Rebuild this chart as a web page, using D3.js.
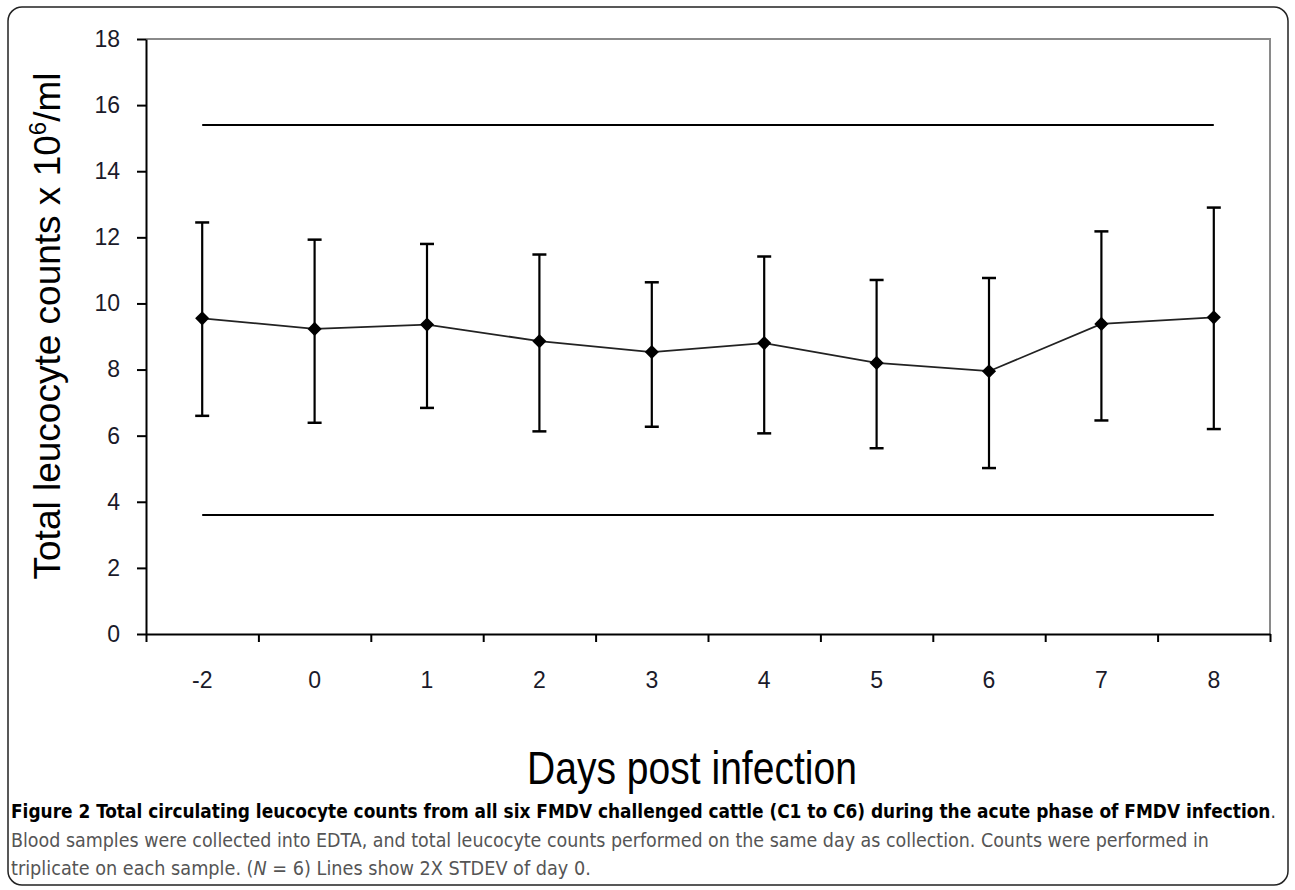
<!DOCTYPE html>
<html>
<head>
<meta charset="utf-8">
<script src="https://cdn.jsdelivr.net/npm/d3@7"></script>
<style>
body{margin:0;background:#fff;}
svg text{font-family:Arial,"Liberation Sans",sans-serif;}
</style>
</head>
<body>
<svg id="chart" width="1295" height="890"></svg>
<script>
let days=["-2","0","1","2","3","4","5","6","7","8"];
let means=[9.55,9.23,9.36,8.86,8.53,8.8,8.2,7.95,9.38,9.58];
let upper=[12.45,11.93,11.8,11.48,10.64,11.42,10.71,10.77,12.18,12.9];
let lower=[6.6,6.39,6.84,6.13,6.27,6.07,5.62,5.02,6.46,6.2];
let limits=[15.4,3.6];
let yTicks=[0,2,4,6,8,10,12,14,16,18];

let svg=d3.select("#chart");

// rounded frame round figure + caption
svg.append("rect")
   .attr("x",8).attr("y",7).attr("width",1280).attr("height",878)
   .attr("rx",14).attr("fill","none").attr("stroke","#222").attr("stroke-width",1.5);

let x=d3.scaleBand().domain(days).range([146,1270]);
let xEdge=d3.scaleLinear().domain([0,days.length]).range([146,1270]);
let y=d3.scaleLinear().domain([0,18]).range([634,39]);

// grey plot border top + right
svg.append("path")
   .attr("d",`M${x.range()[0]},${y(18)}H${x.range()[1]}V${y(0)}`)
   .attr("fill","none").attr("stroke","#8a8a8a").attr("stroke-width",2);

// y axis
let yAxis=svg.append("g").attr("transform","translate(146,0)")
   .call(d3.axisLeft(y).tickValues(yTicks).tickSize(9).tickSizeOuter(0).tickPadding(17));
yAxis.select(".domain").attr("stroke","#000").attr("stroke-width",2);
yAxis.selectAll(".tick line").attr("stroke","#000").attr("stroke-width",2);
yAxis.selectAll(".tick text").attr("font-size",23).attr("fill","#1a1a2a")
   .style("font-family","Arial, 'Liberation Sans', sans-serif");

// x axis ticks at band edges
let xTickAxis=svg.append("g").attr("transform","translate(0,634)")
   .call(d3.axisBottom(xEdge).ticks(10).tickFormat("").tickSize(8).tickSizeOuter(0));
xTickAxis.select(".domain").attr("stroke","#000").attr("stroke-width",2);
xTickAxis.selectAll(".tick line").attr("stroke","#000").attr("stroke-width",2);

// x labels at band centres
let xLab=svg.append("g").attr("transform","translate(0,634)")
   .call(d3.axisBottom(x).tickSize(0).tickPadding(38));
xLab.select(".domain").remove();
xLab.selectAll(".tick text").attr("font-size",23).attr("fill","#1a1a2a")
   .style("font-family","Arial, 'Liberation Sans', sans-serif");

// 2x STDEV lines
svg.selectAll(".limit").data(limits).enter().append("line")
   .attr("class","limit")
   .attr("x1",x(days[0])+x.bandwidth()/2)
   .attr("x2",x(days[days.length-1])+x.bandwidth()/2)
   .attr("y1",d=>y(d)).attr("y2",d=>y(d))
   .attr("stroke","#000").attr("stroke-width",2);

let cx=d=>x(d)+x.bandwidth()/2;

// error bars
let bars=svg.selectAll(".err").data(days).enter().append("g").attr("class","err");
bars.append("line")
   .attr("x1",d=>cx(d)).attr("x2",d=>cx(d))
   .attr("y1",(d,i)=>y(lower[i])).attr("y2",(d,i)=>y(upper[i]))
   .attr("stroke","#000").attr("stroke-width",2.2);
bars.append("line")
   .attr("x1",d=>cx(d)-7).attr("x2",d=>cx(d)+7)
   .attr("y1",(d,i)=>y(upper[i])).attr("y2",(d,i)=>y(upper[i]))
   .attr("stroke","#000").attr("stroke-width",2.5);
bars.append("line")
   .attr("x1",d=>cx(d)-7).attr("x2",d=>cx(d)+7)
   .attr("y1",(d,i)=>y(lower[i])).attr("y2",(d,i)=>y(lower[i]))
   .attr("stroke","#000").attr("stroke-width",2.5);

// mean line
let line=d3.line().x((d,i)=>cx(days[i])).y(d=>y(d));
svg.append("path").datum(means)
   .attr("d",line).attr("fill","none").attr("stroke","#222").attr("stroke-width",1.8);

// diamond markers
svg.selectAll(".pt").data(means).enter().append("path")
   .attr("class","pt")
   .attr("d",d3.symbol().type(d3.symbolSquare).size(100))
   .attr("transform",(d,i)=>`translate(${cx(days[i])},${y(d)}) rotate(45)`)
   .attr("fill","#000");

// axis titles
let yt=svg.append("text")
   .attr("transform","translate(60,326) rotate(-90)")
   .attr("text-anchor","middle").attr("font-size",37).attr("fill","#000");
yt.append("tspan").text("Total leucocyte counts x 10");
yt.append("tspan").attr("font-size",24).attr("dy",-14).text("6");
yt.append("tspan").attr("dy",14).text("/ml");

let xt=svg.append("text")
   .attr("font-size",46).attr("fill","#000")
   .text("Days post infection");
squeeze(xt,527,784,330);

// caption: narrow each line with a horizontal scale so it fits its width
function squeeze(sel,x0,y0,w){
  let n=sel.node().getComputedTextLength();
  sel.attr("transform",`translate(${x0},${y0}) scale(${w/n},1)`);
}
let capFont="'DejaVu Sans Condensed','Liberation Sans',sans-serif";

let c1=svg.append("text").attr("font-size",19).style("font-family",capFont);
c1.append("tspan").attr("font-weight","bold").attr("fill","#000")
   .text("Figure 2 Total circulating leucocyte counts from all six FMDV challenged cattle (C1 to C6) during the acute phase of FMDV infection");
c1.append("tspan").attr("fill","#333").text(".");
squeeze(c1,11,818,1266);

let c2=svg.append("text").attr("font-size",19).style("font-family",capFont).attr("fill","#555")
   .text("Blood samples were collected into EDTA, and total leucocyte counts performed on the same day as collection. Counts were performed in");
squeeze(c2,11,847,1198);

let c3=svg.append("text").attr("font-size",19).style("font-family",capFont).attr("fill","#555");
c3.append("tspan").text("triplicate on each sample. (");
c3.append("tspan").attr("font-style","italic").text("N");
c3.append("tspan").text(" = 6) Lines show 2X STDEV of day 0.");
squeeze(c3,11,875,580);
</script>
</body>
</html>
